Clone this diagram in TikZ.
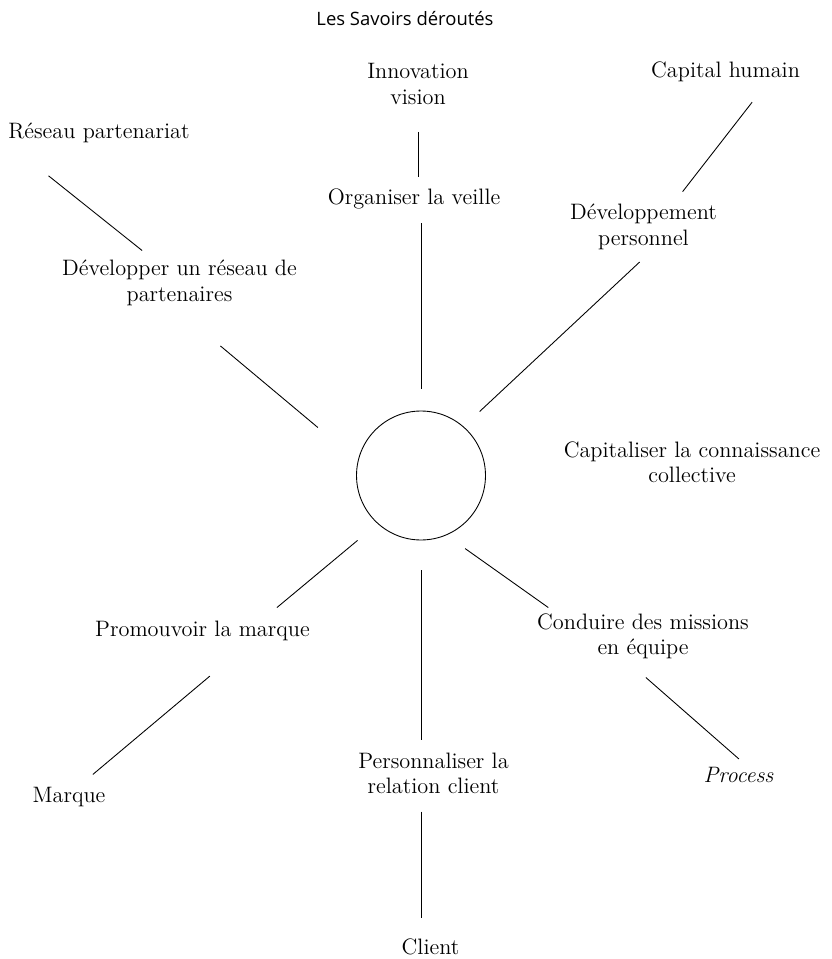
\documentclass[tikz,border=0pt]{standalone}
\usepackage{amsmath, amssymb}
\usepackage{xcolor}
\usepackage{fontspec}
\newfontfamily\titlefont{Open Sans}

\begin{document}
\begin{tikzpicture}[inner sep=0pt, x=0.02cm, y=-0.02cm, line width=0.5pt,
  lab/.style={align=center, font=\fontsize{12.7}{14.5}\selectfont}]
\useasboundingbox (0,0) rectangle (831,959);
\node[font=\titlefont\fontsize{10.5}{12}\selectfont] (title) at (405,19) {Les Savoirs déroutés};
\node[lab] (innov) at (418,84) {Innovation\\vision};
\node[lab] (caph) at (725.5,72) {Capital humain};
\node[lab] (resp) at (99,133) {Réseau partenariat};
\node[lab] (org) at (414,199) {Organiser la veille};
\node[lab] (dperso) at (643.5,227) {Développement\\personnel};
\node[lab] (dres) at (179.5,283) {Développer un réseau de\\partenaires};
\node[circle,draw,minimum size=2.58cm] (hub) at (421,475.5) {};
\node[lab] (capit) at (692,462) {Capitaliser la connaissance\\collective};
\node[lab] (promo) at (202.5,631) {Promouvoir la marque};
\node[lab] (cond) at (643,636.5) {Conduire des missions\\en équipe};
\node[lab] (marque) at (69,797.5) {Marque};
\node[lab] (perso) at (433.5,773.5) {Personnaliser la\\relation client};
\node[lab,font=\fontsize{12.7}{14.5}\selectfont\itshape] (process) at (738.5,775) {Process};
\node[lab] (client) at (430.5,947) {Client};
\path (innov.south) edge [shorten <=0.54cm,shorten >=0.22cm] (innov.south |- org.north);
\path (org.south -| hub.north) edge [shorten <=0.27cm,shorten >=0.44cm] (hub.north);
\path (caph.-14) edge [shorten <=0.5cm,shorten >=0.31cm] (dperso.38);
\path (dperso.-69) edge [shorten <=0.35cm,shorten >=0.44cm] (hub.49);
\path (resp.south west) edge [shorten <=1.04cm,shorten >=0.3cm] (dres.138);
\path (dres.254) edge [shorten <=1.24cm,shorten >=1.04cm] (hub.167);
\path (hub.228) edge [shorten <=0.52cm,shorten >=0.41cm] (promo.10.5);
\path (promo.-12.5) edge [shorten <=1.08cm,shorten >=0.4cm] (marque.50);
\path (hub.south) edge [shorten <=0.6cm,shorten >=0.24cm] (hub.south |- perso.north);
\path (perso.south -| hub.south) edge [shorten <=0.34cm,shorten >=0.4cm] (hub.south |- client.north);
\path (hub.-67) edge [shorten <=0.46cm,shorten >=0.2cm] (cond.165);
\path (cond.233) edge [shorten <=0.54cm,shorten >=0.24cm] (process.41);
\end{tikzpicture}
\end{document}
